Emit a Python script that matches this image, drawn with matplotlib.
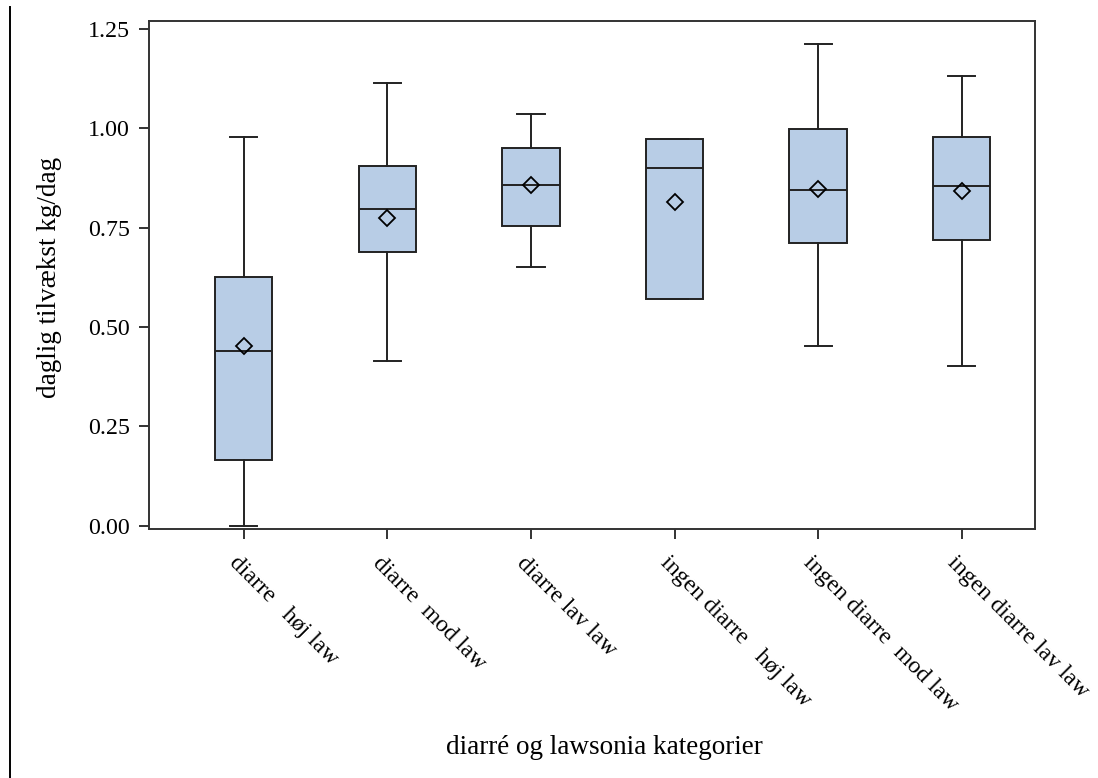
import matplotlib.pyplot as plt
import matplotlib.transforms as mtransforms
from matplotlib.lines import Line2D

# values
categories = ["diarre   høj law", "diarre  mod law", "diarre lav law",
              "ingen diarre   høj law", "ingen diarre  mod law", "ingen diarre lav law"]
whisker_lo = [0.000, 0.415, 0.650, 0.570, 0.452, 0.403]
q1 = [0.165, 0.690, 0.755, 0.570, 0.711, 0.719]
median = [0.440, 0.797, 0.857, 0.901, 0.845, 0.856]
mean = [0.453, 0.775, 0.858, 0.814, 0.847, 0.843]
q3 = [0.626, 0.905, 0.950, 0.974, 0.998, 0.978]
whisker_hi = [0.978, 1.115, 1.037, 0.974, 1.213, 1.132]
yticks = [0.00, 0.25, 0.50, 0.75, 1.00, 1.25]

plt.rcParams['font.family'] = ['Liberation Serif', 'DejaVu Serif']

fig = plt.figure(figsize=(10.98, 7.78), dpi=100)
ax = fig.add_axes([149 / 1098, 1 - 529 / 778, (1035 - 149) / 1098, (529 - 21) / 778])

stats = []
for i in range(len(categories)):
    stats.append(dict(med=median[i], q1=q1[i], q3=q3[i], whislo=whisker_lo[i],
                      whishi=whisker_hi[i], mean=mean[i], fliers=[], label=categories[i]))

edge = '#222222'
ax.bxp(stats, positions=range(len(categories)), widths=0.4, capwidths=0.19,
       patch_artist=True, showmeans=True, showfliers=False,
       boxprops=dict(facecolor='#b8cde6', edgecolor=edge, linewidth=1.4),
       medianprops=dict(color=edge, linewidth=1.4),
       whiskerprops=dict(color=edge, linewidth=1.4),
       capprops=dict(color=edge, linewidth=1.4),
       meanprops=dict(marker='D', markersize=8.5, markerfacecolor='none',
                      markeredgecolor='black', markeredgewidth=1.3))

ax.set_xlim(-0.66, 5.51)
ax.set_ylim(-0.008, 1.27)
ax.set_yticks(yticks)
ax.set_yticklabels([f"{v:.2f}" for v in yticks])
ax.set_xticks(range(len(categories)))
ax.set_xticklabels(categories, rotation=-45, ha='left', va='top', rotation_mode='anchor')

for s in ax.spines.values():
    s.set_linewidth(1.4)
    s.set_color('#333333')
ax.tick_params(axis='both', length=7, width=1.4, color='#333333', labelsize=17.2)
ax.tick_params(axis='y', pad=7)
ax.tick_params(axis='x', pad=10)

# nudge rotated labels a little to the left
shift = mtransforms.ScaledTranslation(-4 / 100, 0, fig.dpi_scale_trans)
for lbl in ax.get_xticklabels():
    lbl.set_transform(lbl.get_transform() + shift)

fig.text(50 / 1098, 1 - 277 / 778, "daglig tilvækst kg/dag",
         fontsize=19.5, rotation=90, ha='center', va='center')
fig.text(604 / 1098, 1 - 747 / 778, "diarré og lawsonia kategorier",
         fontsize=19.5, ha='center', va='center')

fig.add_artist(Line2D([10 / 1098, 10 / 1098], [0, 1 - 7 / 778],
                      transform=fig.transFigure, color='black', linewidth=1.4))

fig.savefig("out.png", dpi=100)
